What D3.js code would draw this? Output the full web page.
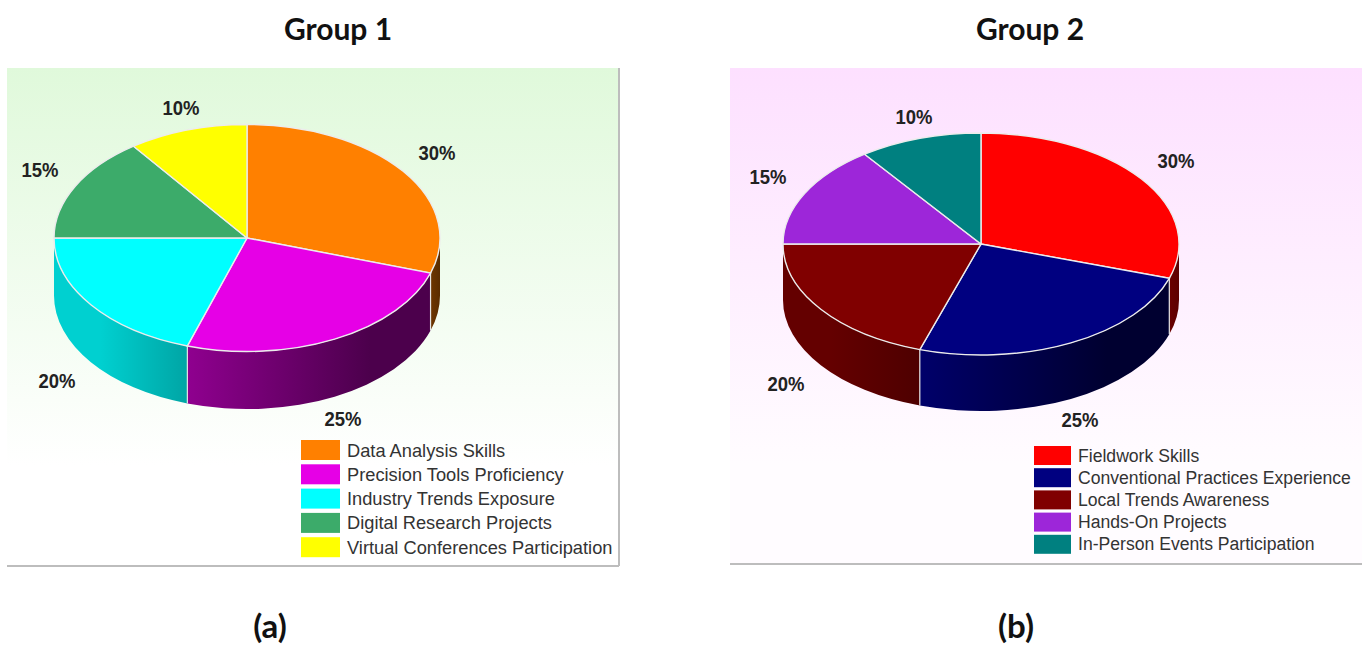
<!DOCTYPE html>
<html>
<head>
<meta charset="utf-8">
<title>Skill shares by group</title>
<script src="https://d3js.org/d3.v7.min.js"></script>
<style>
  html, body { margin: 0; padding: 0; background: #fff; }
  svg { display: block; }
  .title { font-family: Lato, sans-serif; font-weight: 700; font-size: 30px; fill: #111; text-anchor: middle; }
  .caption { font-family: Lato, sans-serif; font-weight: 700; font-size: 33px; fill: #111; text-anchor: middle; }
  .pct { font-family: "Liberation Sans", Arial, sans-serif; font-weight: 700; font-size: 20px; fill: #222; text-anchor: middle; dominant-baseline: central; }
  .legend-text { font-family: "Liberation Sans", Arial, sans-serif; fill: #333; }
</style>
</head>
<body>
<svg id="chart" width="1362" height="646"></svg>
<script>
// Shares shared by both groups, in percent
const shares = [30, 25, 20, 15, 10];
const shareLabels = ["30%", "25%", "20%", "15%", "10%"];

const group1Skills = ["Data Analysis Skills", "Precision Tools Proficiency", "Industry Trends Exposure", "Digital Research Projects", "Virtual Conferences Participation"];
const group1Colors = ["#ff8000", "#e600e6", "#00ffff", "#3cab6a", "#ffff00"];
const group2Skills = ["Fieldwork Skills", "Conventional Practices Experience", "Local Trends Awareness", "Hands-On Projects", "In-Person Events Participation"];
const group2Colors = ["#ff0000", "#000080", "#800000", "#9d26d9", "#008080"];

// Side-wall shading, left and right stops per slice
const group1Walls = [["#6e3600", "#5a2c00"], ["#8f008f", "#4c004c"], ["#00d0d0", "#00a5a5"], null, null];
const group2Walls = [["#6a0000", "#5c0000"], ["#00006a", "#000030"], ["#640000", "#4e0000"], null, null];

// Panel layout
const panels = [
  {
    id: "g1", title: "Group 1", caption: "(a)", titleX: 338, captionX: 270,
    skills: group1Skills, colors: group1Colors, walls: group1Walls,
    box: { x: 7, y: 68, w: 612, h: 497 }, edgeRight: true,
    bg: ["#e0f9db", "#ffffff"],
    cx: 247, cy: 238, rx: 193, ry: 113.5, depth: 57.5,
    labelAt: [[437, 153], [343, 419], [57, 381], [40, 170], [181, 108]],
    legend: { x: 301, y: 440, sw: 39, sh: 20, step: 24.3, textX: 347, size: 18.25, base: 16.5 }
  },
  {
    id: "g2", title: "Group 2", caption: "(b)", titleX: 1030, captionX: 1016,
    skills: group2Skills, colors: group2Colors, walls: group2Walls,
    box: { x: 730, y: 68, w: 632, h: 495 }, edgeRight: false,
    bg: ["#fde0ff", "#fffcff"],
    cx: 981, cy: 244, rx: 198, ry: 111, depth: 56,
    labelAt: [[1176, 161], [1080, 420], [786, 384], [768, 177], [914, 117]],
    legend: { x: 1034, y: 446, sw: 37, sh: 19, step: 22.2, textX: 1078, size: 17.6, base: 15.5 }
  }
];

const svg = d3.select("#chart");
const defs = svg.append("defs");
const pie = d3.pie().sort(null).value(d => d);

panels.forEach(p => {
  const g = svg.append("g").attr("id", p.id);

  // Panel background
  const bgGrad = defs.append("linearGradient")
    .attr("id", p.id + "-bg").attr("x1", 0).attr("y1", 0).attr("x2", 0).attr("y2", 1);
  bgGrad.append("stop").attr("offset", "0%").attr("stop-color", p.bg[0]);
  bgGrad.append("stop").attr("offset", "80%").attr("stop-color", p.bg[1]);
  g.append("rect").attr("x", p.box.x).attr("y", p.box.y).attr("width", p.box.w).attr("height", p.box.h)
    .attr("fill", `url(#${p.id}-bg)`);
  g.append("line").attr("x1", p.box.x).attr("x2", p.box.x + p.box.w)
    .attr("y1", p.box.y + p.box.h + 1).attr("y2", p.box.y + p.box.h + 1)
    .attr("stroke", "#bdbdbd").attr("stroke-width", 2);
  if (p.edgeRight) {
    g.append("line").attr("x1", p.box.x + p.box.w).attr("x2", p.box.x + p.box.w)
      .attr("y1", p.box.y).attr("y2", p.box.y + p.box.h + 1)
      .attr("stroke", "#bdbdbd").attr("stroke-width", 2);
  }

  const slices = pie(shares);
  const px = a => p.cx + p.rx * Math.sin(a);
  const py = a => p.cy - p.ry * Math.cos(a);

  // Front-facing walls: the part of each slice between 90 and 270 degrees
  const frontStart = Math.PI / 2, frontEnd = Math.PI * 1.5;
  const seams = [];
  slices.forEach((s, i) => {
    const a0 = Math.max(s.startAngle, frontStart), a1 = Math.min(s.endAngle, frontEnd);
    if (a1 <= a0 || !p.walls[i]) return;
    const gid = `${p.id}-wall-${i}`;
    const grad = defs.append("linearGradient").attr("id", gid)
      .attr("gradientUnits", "userSpaceOnUse")
      .attr("x1", d3.min([px(a0), px(a1)])).attr("x2", d3.max([px(a0), px(a1)]))
      .attr("y1", 0).attr("y2", 0);
    const holdAt = i === 1 ? "75%" : "100%";
    grad.append("stop").attr("offset", i === 2 ? "35%" : "0%").attr("stop-color", p.walls[i][0]);
    grad.append("stop").attr("offset", holdAt).attr("stop-color", p.walls[i][1]);

    const large = (a1 - a0) > Math.PI ? 1 : 0;
    const d = d3.path();
    d.moveTo(px(a0), py(a0));
    let path = d.toString();
    path += `A${p.rx},${p.ry} 0 ${large} 1 ${px(a1)},${py(a1)}`;
    path += `L${px(a1)},${py(a1) + p.depth}`;
    path += `A${p.rx},${p.ry} 0 ${large} 0 ${px(a0)},${py(a0) + p.depth}Z`;
    g.append("path").attr("d", path).attr("fill", `url(#${gid})`);
    if (a0 === s.startAngle) seams.push(a0);
  });

  // Seams between neighbouring walls
  g.selectAll("line.seam").data(seams).join("line")
    .attr("class", "seam")
    .attr("x1", px).attr("x2", px)
    .attr("y1", py).attr("y2", a => py(a) + p.depth)
    .attr("stroke", "#e4e4e4").attr("stroke-width", 1.2);

  // Top face: a circular arc squashed into an ellipse
  const arc = d3.arc().innerRadius(0).outerRadius(p.rx);
  g.append("g")
    .attr("transform", `translate(${p.cx},${p.cy}) scale(1,${p.ry / p.rx})`)
    .selectAll("path").data(slices).join("path")
    .attr("d", arc)
    .attr("fill", (d, i) => p.colors[i])
    .attr("stroke", "#ececec").attr("stroke-width", 1.4)
    .attr("vector-effect", "non-scaling-stroke");

  // Percentage labels, narrowed to the drawn width
  g.selectAll("text.pct").data(shareLabels).join("text")
    .attr("class", "pct")
    .attr("x", (d, i) => p.labelAt[i][0])
    .attr("y", (d, i) => p.labelAt[i][1])
    .attr("textLength", 37)
    .attr("lengthAdjust", "spacingAndGlyphs")
    .text(d => d);

  // Legend
  const L = p.legend;
  const rows = g.selectAll("g.legend-row").data(p.skills).join("g")
    .attr("class", "legend-row")
    .attr("transform", (d, i) => `translate(0,${L.y + i * L.step})`);
  rows.append("rect").attr("x", L.x).attr("y", 0).attr("width", L.sw).attr("height", L.sh)
    .attr("fill", (d, i) => p.colors[i]);
  rows.append("text").attr("class", "legend-text")
    .attr("x", L.textX).attr("y", L.base).attr("font-size", L.size)
    .text(d => d);

  // Title and caption
  g.append("text").attr("class", "title").attr("x", p.titleX).attr("y", 40).text(p.title);
  g.append("text").attr("class", "caption").attr("x", p.captionX).attr("y", 638).text(p.caption);
});
</script>
</body>
</html>
